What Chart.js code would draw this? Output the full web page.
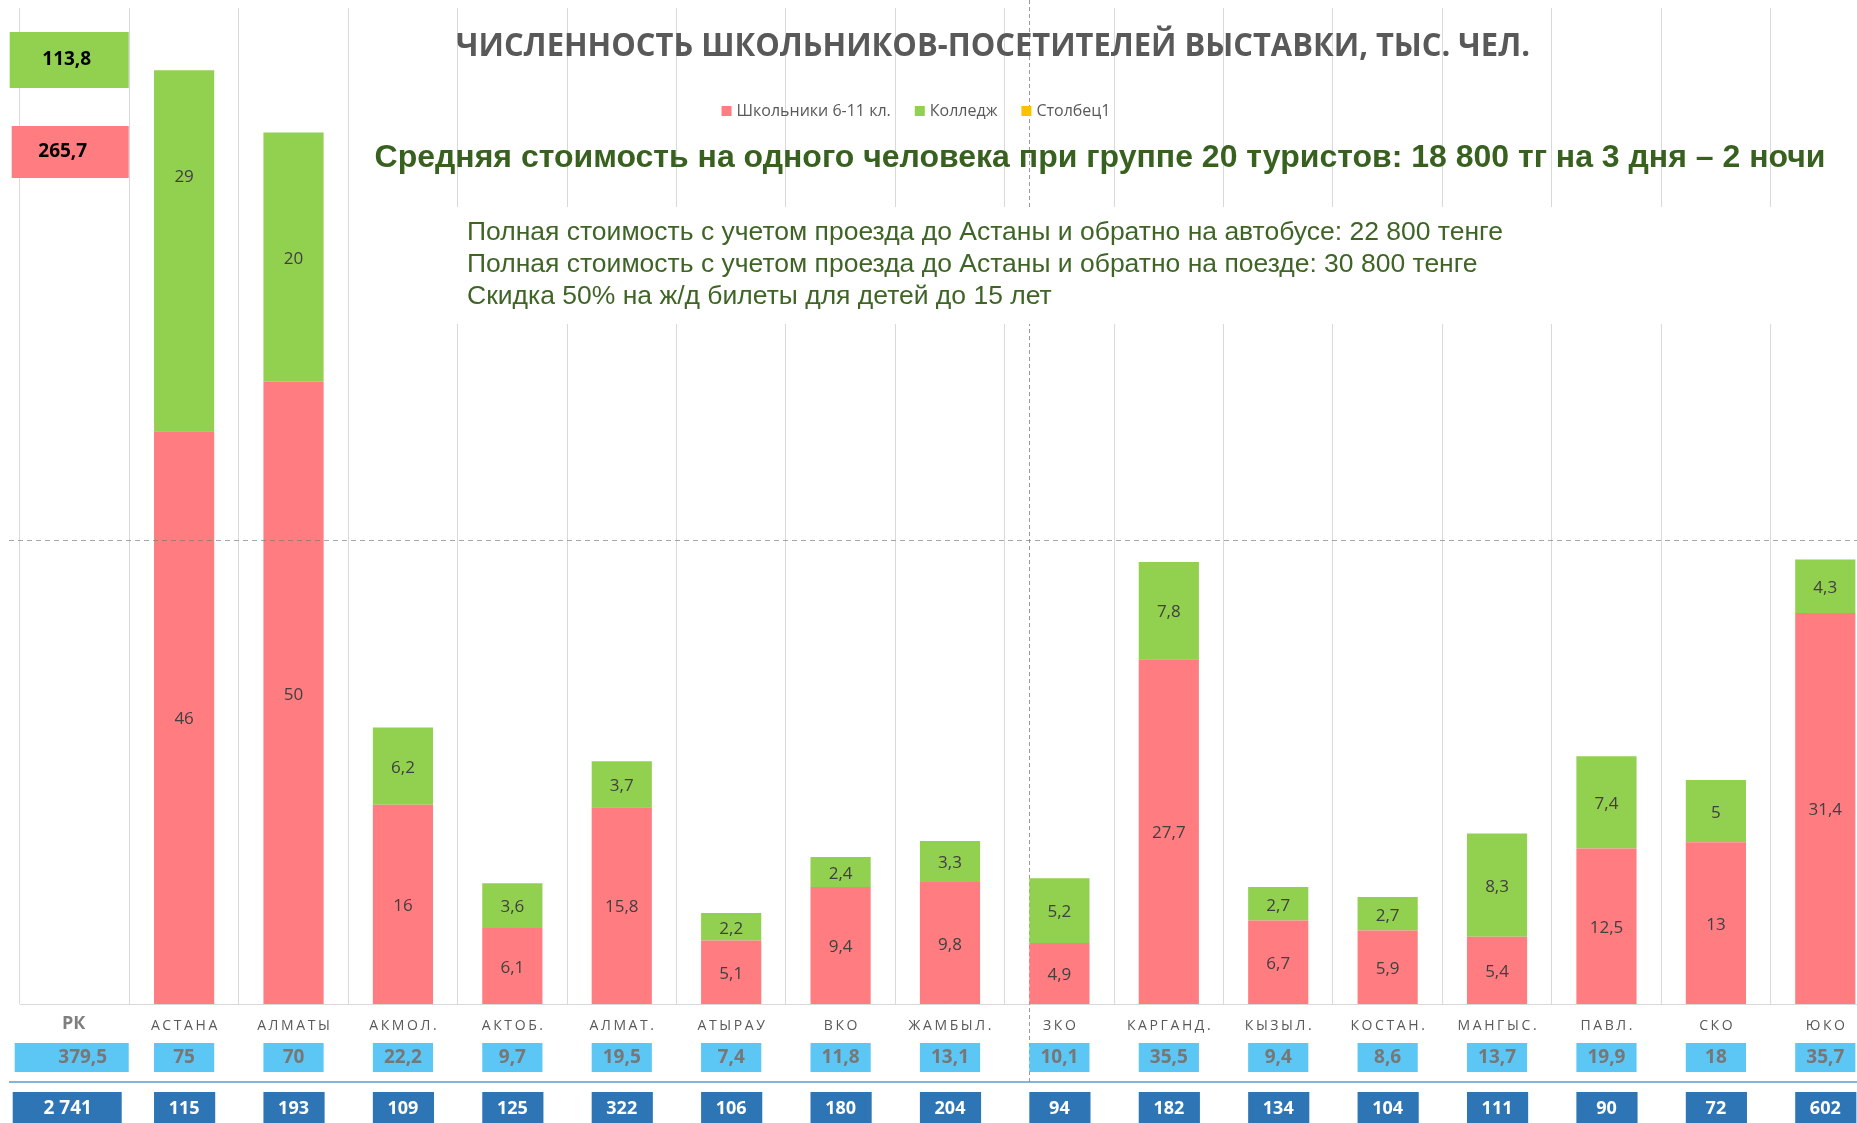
<!DOCTYPE html>
<html><head><meta charset="utf-8">
<script src="https://cdn.jsdelivr.net/npm/chart.js@4.4.1/dist/chart.umd.min.js"></script>
<style>html,body{margin:0;padding:0;background:#fff;overflow:hidden}canvas{display:block}</style>
</head><body>
<canvas id="graph" width="1880" height="1123"></canvas>
<script>
/* ================= données ================= */
const regions = ['РК','АСТАНА','АЛМАТЫ','АКМОЛ.','АКТОБ.','АЛМАТ.','АТЫРАУ','ВКО','ЖАМБЫЛ.','ЗКО','КАРГАНД.','КЫЗЫЛ.','КОСТАН.','МАНГЫС.','ПАВЛ.','СКО','ЮКО'];
const shkolniki = [null,46,50,16,6.1,15.8,5.1,9.4,9.8,4.9,27.7,6.7,5.9,5.4,12.5,13,31.4];
const kolledzh  = [null,29,20,6.2,3.6,3.7,2.2,2.4,3.3,5.2,7.8,2.7,2.7,8.3,7.4,5,4.3];
const stolbec1  = regions.map(()=>null);
const itogo = [379.5,75,70,22.2,9.7,19.5,7.4,11.8,13.1,10.1,35.5,9.4,8.6,13.7,19.9,18,35.7];
const vsego = [2741,115,193,109,125,322,106,180,204,94,182,134,104,111,90,72,602];
const rkKolledzh = 113.8, rkShkolniki = 265.7;
const ligneRepere = 37.3;

const titre = 'ЧИСЛЕННОСТЬ ШКОЛЬНИКОВ-ПОСЕТИТЕЛЕЙ ВЫСТАВКИ, ТЫС. ЧЕЛ.';
const titreCout = 'Средняя стоимость на одного человека при группе 20 туристов: 18 800 тг на 3 дня – 2 ночи';
const notes = [
  'Полная стоимость с учетом проезда до Астаны и обратно на автобусе: 22 800 тенге',
  'Полная стоимость с учетом проезда до Астаны и обратно на поезде: 30 800 тенге',
  'Скидка 50% на ж/д билеты для детей до 15 лет'
];

const ROUGE='#ff7c80', VERT='#92d050', JAUNE='#ffc000', CIEL='#5cc6f5', BLEU='#2e75b6';
const fmt = v => String(v).replace('.', ',');
const fmtMil = v => String(v).replace(/\B(?=(\d{3})+(?!\d))/g, ' ');
/* étiquette déplacée à la main dans l'original (dataset-index -> décalage px) */
const decalages = {'1-1': -76};

function txt(ctx, s, x, y, font, color, align='center', esp=0){
  ctx.save();
  ctx.font = font; ctx.fillStyle = color; ctx.textAlign = align; ctx.textBaseline = 'middle';
  if(esp){ ctx.letterSpacing = esp+'px'; if(align==='center') x += esp/2; }
  ctx.fillText(s, x, y);
  ctx.restore();
}

/* ---- fond : trait pointillé vertical + cadre blanc des notes ---- */
const fond = {
  id:'fond',
  beforeDatasetsDraw(chart){
    const {ctx, scales:{x}} = chart;
    const bw = chart.getDatasetMeta(0).data[9].width;
    const xz = Math.round(x.getPixelForValue(9) - bw/2) + 0.5;
    ctx.save();
    ctx.strokeStyle = '#9a9a9a'; ctx.lineWidth = 1; ctx.setLineDash([4,3]);
    ctx.beginPath(); ctx.moveTo(xz, 0); ctx.lineTo(xz, 1082); ctx.stroke();
    ctx.restore();
    ctx.fillStyle = '#fff';
    ctx.fillRect(455, 207, chart.width-455, 117);
  }
};

/* ---- décor : étiquettes, cadres, titres, lignes du bas ---- */
const decor = {
  id:'decor',
  afterDatasetsDraw(chart){
    const {ctx, scales:{x, y}} = chart;
    /* étiquettes dans les barres */
    [0,1].forEach(d=>{
      chart.getDatasetMeta(d).data.forEach((b,i)=>{
        const v = chart.data.datasets[d].data[i];
        if(v===null) return;
        txt(ctx, fmt(v), b.x, (b.y+b.base)/2 + (decalages[d+'-'+i]||0) + 2, '17px "Open Sans"', '#404040');
      });
    });
    /* ligne repère pointillée */
    const yr = Math.round(y.getPixelForValue(ligneRepere)) + 0.5;
    ctx.save();
    ctx.strokeStyle = 'rgba(120,120,120,0.65)'; ctx.lineWidth = 1; ctx.setLineDash([5,4]);
    ctx.beginPath(); ctx.moveTo(9, yr); ctx.lineTo(chart.width, yr); ctx.stroke();
    ctx.restore();

    const bw = chart.getDatasetMeta(0).data[1].width;
    const cx0 = x.getPixelForValue(0);
    /* cadres РК en haut */
    ctx.fillStyle = VERT; ctx.fillRect(cx0-65, 32, 119, 56);
    txt(ctx, fmt(rkKolledzh), cx0-8, 60, 'bold 19px "Open Sans"', '#000');
    ctx.fillStyle = ROUGE; ctx.fillRect(cx0-63, 126, 117, 52);
    txt(ctx, fmt(rkShkolniki), cx0-12, 152, 'bold 19px "Open Sans"', '#000');

    /* lignes du bas */
    regions.forEach((r,i)=>{
      const cx = x.getPixelForValue(i);
      if(i===0){
        txt(ctx, r, cx-1, 1024, 'bold 18px "Open Sans"', '#7f7f7f');
        ctx.fillStyle = CIEL; ctx.fillRect(cx-60, 1043, 114, 29);
        txt(ctx, fmt(itogo[i]), cx+8, 1058, 'bold 19px "Open Sans"', '#777');
        ctx.fillStyle = BLEU; ctx.fillRect(cx-62, 1092, 109, 40);
        txt(ctx, fmtMil(vsego[i]), cx-7, 1109, 'bold 19px "Open Sans"', '#fff');
      } else {
        txt(ctx, r, cx, 1026, '14px "Open Sans"', '#595959', 'center', 2.6);
        ctx.fillStyle = CIEL; ctx.fillRect(cx-bw/2, 1043, bw, 29);
        txt(ctx, fmt(itogo[i]), cx, 1058, 'bold 19px "Open Sans"', '#777');
        ctx.fillStyle = BLEU; ctx.fillRect(cx-bw/2, 1092, bw+1, 40);
        txt(ctx, fmtMil(vsego[i]), cx, 1109, 'bold 18px "Open Sans"', '#fff');
      }
    });
    ctx.save();
    ctx.strokeStyle = '#5b9bd5'; ctx.lineWidth = 1.5;
    ctx.beginPath(); ctx.moveTo(9, 1082); ctx.lineTo(chart.width, 1082); ctx.stroke();
    ctx.restore();

    /* titre : police étroite imitée par compression horizontale */
    ctx.save();
    ctx.font = 'bold 33px "Open Sans"';
    const sx = 1074 / ctx.measureText(titre).width;
    ctx.translate(993, 47); ctx.scale(sx, 1);
    txt(ctx, titre, 0, 0, 'bold 33px "Open Sans"', '#595959');
    ctx.restore();
    /* légende */
    ctx.save();
    ctx.font = '16px "Open Sans"';
    const items = chart.data.datasets.map(d=>({t:d.label, c:d.backgroundColor, w:ctx.measureText(d.label).width}));
    const total = items.reduce((s,it)=>s+15+it.w, 0) + 24*(items.length-1);
    let lx = 916 - total/2;
    items.forEach(it=>{
      ctx.fillStyle = it.c; ctx.fillRect(lx, 106, 10, 10);
      txt(ctx, it.t, lx+15, 111, '16px "Open Sans"', '#595959', 'left');
      lx += 15 + it.w + 24;
    });
    ctx.restore();
    /* textes verts */
    txt(ctx, titreCout, 1100, 158, 'bold 32px "Liberation Sans"', '#38611f');
    notes.forEach((n,k)=> txt(ctx, n, 467, 233 + k*32, '26.5px "Liberation Sans"', '#3f6526', 'left'));
  }
};

new Chart(document.getElementById('graph'), {
  type:'bar',
  data:{labels:regions, datasets:[
    {label:'Школьники 6-11 кл.', data:shkolniki, backgroundColor:ROUGE, stack:'s'},
    {label:'Колледж', data:kolledzh, backgroundColor:VERT, stack:'s'},
    {label:'Столбец1', data:stolbec1, backgroundColor:JAUNE, stack:'s'}
  ]},
  options:{
    responsive:false, animation:false, devicePixelRatio:1,
    layout:{padding:{left:20, right:0, top:8, bottom:119}},
    datasets:{bar:{barPercentage:0.55, categoryPercentage:1}},
    plugins:{legend:{display:false}, tooltip:{enabled:false}, title:{display:false}},
    scales:{
      x:{stacked:true, offset:true,
         grid:{offset:true, color:'#d9d9d9', drawTicks:false, lineWidth:1},
         border:{display:true, color:'#d9d9d9'},
         ticks:{display:false}},
      y:{stacked:true, display:false, min:0, max:80}
    }
  },
  plugins:[fond, decor]
});
</script>
</body></html>
